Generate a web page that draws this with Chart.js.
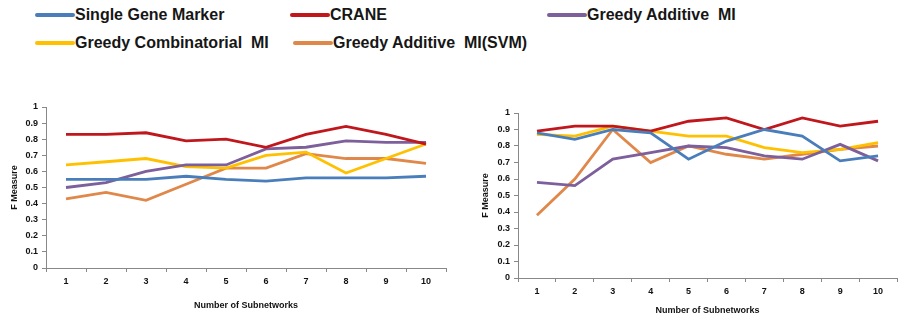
<!DOCTYPE html>
<html>
<head>
<meta charset="utf-8">
<script src="https://cdn.jsdelivr.net/npm/chart.js@4"></script>
<style>
  body { margin: 0; background: #fff; width: 902px; height: 320px; position: relative; overflow: hidden; }
  .box { position: absolute; }
  #legend { position: absolute; left: 0; top: 0; width: 902px; height: 60px;
            font-family: "Liberation Sans", Arial, sans-serif; font-size: 16px; font-weight: bold; color: #161616; }
  .item { position: absolute; white-space: nowrap; line-height: 20px; height: 20px; }
  .item span.sw { display: inline-block; width: 40px; height: 4px; vertical-align: middle; border-radius: 2px; }
  .item span.tx { display: inline-block; vertical-align: middle; }
</style>
</head>
<body>
<div id="legend"></div>
<div class="box" style="left:0;top:95px"><canvas id="left" width="450" height="220"></canvas></div>
<div class="box" style="left:450px;top:100px"><canvas id="right" width="452" height="220"></canvas></div>
<script>
var categories = ['1', '2', '3', '4', '5', '6', '7', '8', '9', '10'];
var seriesNames = ['Single Gene Marker', 'CRANE', 'Greedy Additive  MI', 'Greedy Combinatorial  MI', 'Greedy Additive  MI(SVM)'];
var seriesColors = ['#4a7ebb', '#c0171c', '#7d5f9c', '#ffc000', '#e0874a'];

// left panel
var leftSingle = [0.55, 0.55, 0.55, 0.57, 0.55, 0.54, 0.56, 0.56, 0.56, 0.57];
var leftCrane = [0.83, 0.83, 0.84, 0.79, 0.80, 0.75, 0.83, 0.88, 0.83, 0.77];
var leftGreedyAdd = [0.50, 0.53, 0.60, 0.64, 0.64, 0.74, 0.75, 0.79, 0.78, 0.78];
var leftGreedyComb = [0.64, 0.66, 0.68, 0.63, 0.62, 0.70, 0.72, 0.59, 0.68, 0.77];
var leftGreedySvm = [0.43, 0.47, 0.42, 0.52, 0.62, 0.62, 0.71, 0.68, 0.68, 0.65];

// right panel
var rightSingle = [0.88, 0.84, 0.90, 0.88, 0.72, 0.83, 0.90, 0.86, 0.71, 0.74];
var rightCrane = [0.89, 0.92, 0.92, 0.89, 0.95, 0.97, 0.90, 0.97, 0.92, 0.95];
var rightGreedyAdd = [0.58, 0.56, 0.72, 0.76, 0.80, 0.79, 0.74, 0.72, 0.81, 0.71];
var rightGreedyComb = [0.87, 0.86, 0.92, 0.89, 0.86, 0.86, 0.79, 0.76, 0.78, 0.82];
var rightGreedySvm = [0.38, 0.60, 0.90, 0.70, 0.80, 0.75, 0.72, 0.75, 0.78, 0.80];

var yTicks = ['0', '0.1', '0.2', '0.3', '0.4', '0.5', '0.6', '0.7', '0.8', '0.9', '1'];
var xTitle = 'Number of Subnetworks';
var yTitle = 'F Measure';

// legend (html, built from the series arrays)
var legendPos = [[35, 4], [290, 4], [547, 4], [35, 32], [293, 32]];
var legend = document.getElementById('legend');
seriesNames.forEach(function (name, i) {
    var d = document.createElement('div');
    d.className = 'item';
    d.style.left = legendPos[i][0] + 'px';
    d.style.top = legendPos[i][1] + 'px';
    d.innerHTML = '<span class="sw" style="background:' + seriesColors[i] + '"></span><span class="tx">' +
        name.replace(/  /g, ' &nbsp;') + '</span>';
    legend.appendChild(d);
});

function makeChart(id, data, padLeft, yWidth, xHeight, padTop, padRight) {
    var font = { family: 'Liberation Sans, Arial, sans-serif', size: 9, weight: 'bold' };
    new Chart(document.getElementById(id).getContext('2d'), {
        type: 'line',
        data: {
            labels: categories,
            datasets: data.map(function (vals, i) {
                return {
                    label: seriesNames[i],
                    data: vals,
                    borderColor: seriesColors[i],
                    backgroundColor: seriesColors[i],
                    borderWidth: 2.8,
                    pointRadius: 0,
                    tension: 0
                };
            })
        },
        options: {
            responsive: false,
            animation: false,
            layout: { padding: { top: padTop, right: padRight, left: padLeft, bottom: 0 } },
            plugins: { legend: { display: false }, tooltip: { enabled: false } },
            scales: {
                x: {
                    offset: true,
                    grid: { offset: true, drawOnChartArea: false, drawTicks: true, tickLength: 4, color: '#888' },
                    border: { color: '#888' },
                    ticks: { color: '#111', font: font, padding: 4, maxRotation: 0 },
                    title: { display: true, text: xTitle, color: '#111', font: font, padding: { top: 6 } },
                    afterFit: function (s) { s.height = xHeight; }
                },
                y: {
                    min: 0, max: 1,
                    grid: { drawOnChartArea: false, drawTicks: true, tickLength: 4, color: '#888' },
                    border: { color: '#888' },
                    ticks: { stepSize: 0.1, color: '#111', font: font, padding: 4,
                             callback: function (v, i) { return yTicks[i]; } },
                    title: { display: true, text: yTitle, color: '#111', font: font },
                    afterFit: function (s) { s.width = yWidth; }
                }
            }
        }
    });
}

makeChart('left', [leftSingle, leftCrane, leftGreedyAdd, leftGreedyComb, leftGreedySvm], 5, 41, 47, 12, 4);
makeChart('right', [rightSingle, rightCrane, rightGreedyAdd, rightGreedyComb, rightGreedySvm], 26, 42, 42, 13, 5);
</script>
</body>
</html>
